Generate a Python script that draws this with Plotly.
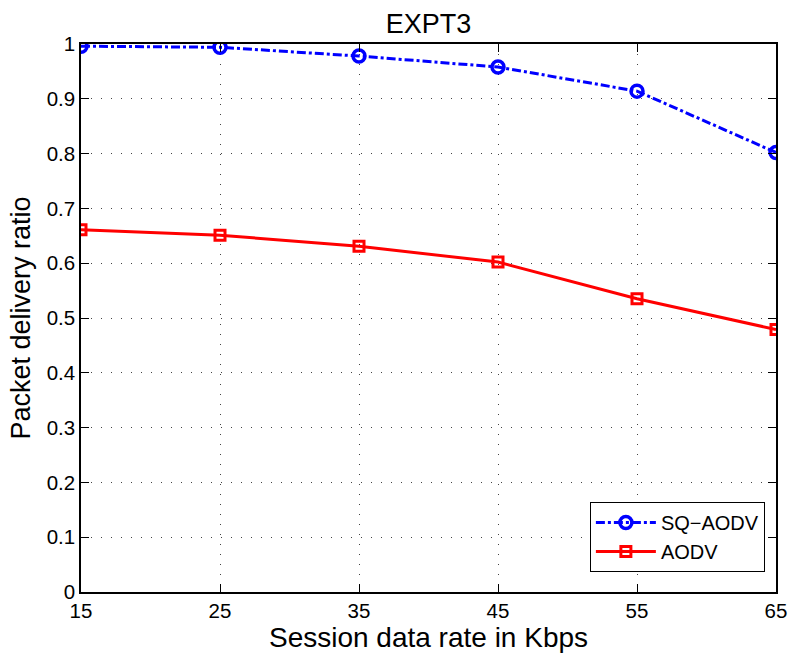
import plotly.graph_objects as go

rates = [15, 25, 35, 45, 55, 65]
sq_aodv = [0.996, 0.994, 0.978, 0.958, 0.914, 0.802]
aodv = [0.661, 0.651, 0.631, 0.602, 0.535, 0.479]
y_ticks = [0, 0.1, 0.2, 0.3, 0.4, 0.5, 0.6, 0.7, 0.8, 0.9, 1]
y_tick_text = ["0", "0.1", "0.2", "0.3", "0.4", "0.5", "0.6", "0.7", "0.8", "0.9", "1"]

FONT = "Liberation Sans, Arial, Helvetica, sans-serif"

fig = go.Figure()
fig.add_trace(go.Scatter(
    x=rates, y=sq_aodv, name="SQ\u2212AODV", mode="lines+markers",
    line=dict(color="#0000ff", width=3, dash="dashdot"),
    marker=dict(symbol="circle-open", size=12, color="#0000ff", line=dict(width=3.5)),
))
fig.add_trace(go.Scatter(
    x=rates, y=aodv, name="AODV", mode="lines+markers",
    line=dict(color="#ff0000", width=3),
    marker=dict(symbol="square-open", size=10, color="#ff0000", line=dict(width=3)),
))

axis_common = dict(
    showline=True, linecolor="black", linewidth=1.5, mirror="allticks",
    ticks="inside", ticklen=8, tickcolor="black", tickwidth=1,
    showgrid=True, gridcolor="#444444", griddash="1px,9px", gridwidth=1,
    zeroline=False, automargin=False,
    tickfont=dict(family=FONT, size=20.5, color="black"),
)

fig.update_layout(
    width=791, height=659,
    margin=dict(l=81, r=15, t=44, b=67),
    paper_bgcolor="white", plot_bgcolor="white",
    title=dict(text="EXPT3", x=0.5, xref="paper", xanchor="center",
               y=1, yref="paper", yanchor="bottom", pad=dict(b=11),
               font=dict(family=FONT, size=27, color="black")),
    xaxis=dict(axis_common, range=[15, 65], tickvals=rates,
               title=dict(text="Session data rate in Kbps", standoff=2,
                          font=dict(family=FONT, size=28, color="black"))),
    yaxis=dict(axis_common, range=[0, 1], tickvals=y_ticks, ticktext=y_tick_text,
               title=dict(text="Packet delivery ratio", standoff=8,
                          font=dict(family=FONT, size=27, color="black"))),
    legend=dict(x=0.984, y=0.0365, xanchor="right", yanchor="bottom",
                bordercolor="black", borderwidth=1, bgcolor="white",
                font=dict(family=FONT, size=20, color="black"),
                itemwidth=60, tracegroupgap=0),
    showlegend=True,
)

fig.write_html(
    "out.html",
    config={"displayModeBar": False},
    post_script="document.body.style.margin='0';document.body.style.overflow='hidden';",
)
